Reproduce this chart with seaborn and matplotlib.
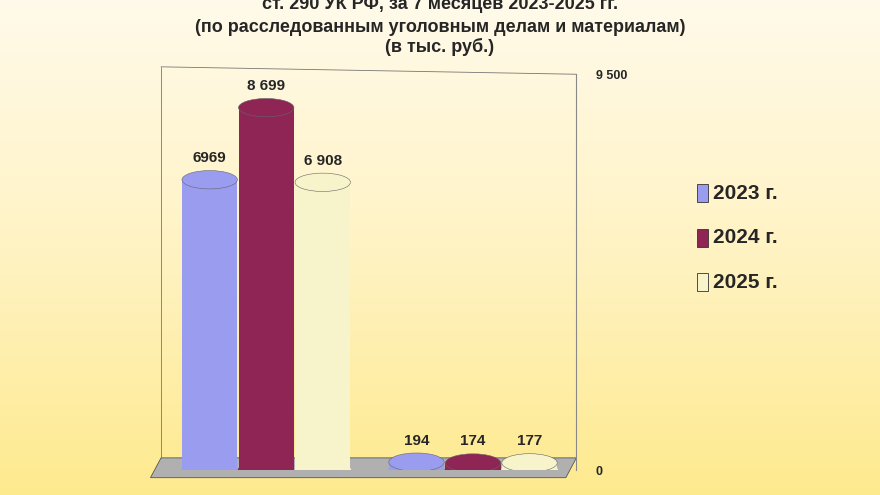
import numpy as np
import pandas as pd
import matplotlib.pyplot as plt
import seaborn as sns
from matplotlib.patches import Ellipse, Polygon

groups = ["A", "B"]
years = ["2023 г.", "2024 г.", "2025 г."]
values_2023 = [6969, 194]
values_2024 = [8699, 174]
values_2025 = [6908, 177]
labels = [["6969", "194"], ["8 699", "174"], ["6 908", "177"]]
colors = ["#9a9cf0", "#8e2554", "#f7f4cc"]

df = pd.DataFrame({
    "group": groups * 3,
    "year": [years[0]] * 2 + [years[1]] * 2 + [years[2]] * 2,
    "value": values_2023 + values_2024 + values_2025,
})

sns.set_style("white")
plt.rcParams["font.family"] = ["Liberation Sans", "DejaVu Sans"]

fig = plt.figure(figsize=(8.8, 4.95), dpi=100)
bg = fig.add_axes([0, 0, 1, 1])
grad = np.linspace(0, 1, 256).reshape(-1, 1)
bg.imshow(grad, aspect="auto", cmap=sns.blend_palette(["#fffaea", "#fff3c4", "#feea8e"], as_cmap=True),
          extent=[0, 1, 0, 1])
bg.axis("off")
# floor
bg.add_patch(Polygon([(0.183, 0.075), (0.655, 0.075), (0.643, 0.035), (0.171, 0.035)],
                     closed=True, facecolor="#b0b0b0", edgecolor="#555555", lw=0.6))
bg.plot([0.183, 0.183], [0.075, 0.865], color="#777777", lw=0.6)
bg.plot([0.183, 0.655], [0.865, 0.85], color="#777777", lw=0.6)
bg.set_xlim(0, 1)
bg.set_ylim(0, 1)

ax = fig.add_axes([0.185, 0.05, 0.47, 0.80])
ax.patch.set_alpha(0)
sns.barplot(data=df, x="group", y="value", hue="year", palette=colors, ax=ax,
            width=0.82, gap=0.02, edgecolor="none", saturation=1, legend=False)
ax.set_ylim(0, 9500)
ax.set_xlim(-0.5, 1.5)
ax.set_xlabel("")
ax.set_ylabel("")
ax.set_xticks([])
ax.yaxis.tick_right()
ax.set_yticks([0, 9500])
ax.set_yticklabels(["0", "9 500"], fontsize=9, fontweight="bold")
ax.tick_params(axis="y", length=0, pad=14)
for s in ["left", "top", "bottom"]:
    ax.spines[s].set_visible(False)
ax.spines["right"].set_color("#888888")

for ci, cont in enumerate(ax.containers):
    for gi, bar in enumerate(cont):
        x0, w, h = bar.get_x(), bar.get_width(), bar.get_height()
        cap_h = 220
        ax.add_patch(Ellipse((x0 + w / 2, h), w, cap_h * 2, color=colors[ci],
                             ec="#666666", lw=0.4, zorder=4))
        ax.add_patch(Ellipse((x0 + w / 2, 0), w, cap_h * 2, color=colors[ci], zorder=1))
        bar.set_zorder(3)
        ax.text(x0 + w / 2, h + 350, labels[ci][gi], ha="center", va="bottom",
                fontsize=11, fontweight="bold", zorder=5)

fig.text(0.5, 0.99, "ст. 290 УК РФ, за 7 месяцев 2023-2025 гг.", ha="center", va="center",
         fontsize=13, fontweight="bold")
fig.text(0.5, 0.945, "(по расследованным уголовным делам и материалам)", ha="center",
         va="center", fontsize=13, fontweight="bold")
fig.text(0.5, 0.905, "(в тыс. руб.)", ha="center", va="center", fontsize=13, fontweight="bold")

for i, (y, c) in enumerate(zip(years, colors)):
    yy = 0.61 - i * 0.09
    fig.patches.append(plt.Rectangle((0.792, yy - 0.018), 0.012, 0.036, transform=fig.transFigure,
                                     facecolor=c, edgecolor="#333333", lw=0.6))
    fig.text(0.81, yy, y, va="center", fontsize=15, fontweight="bold")

fig.savefig("out.png", dpi=100)
